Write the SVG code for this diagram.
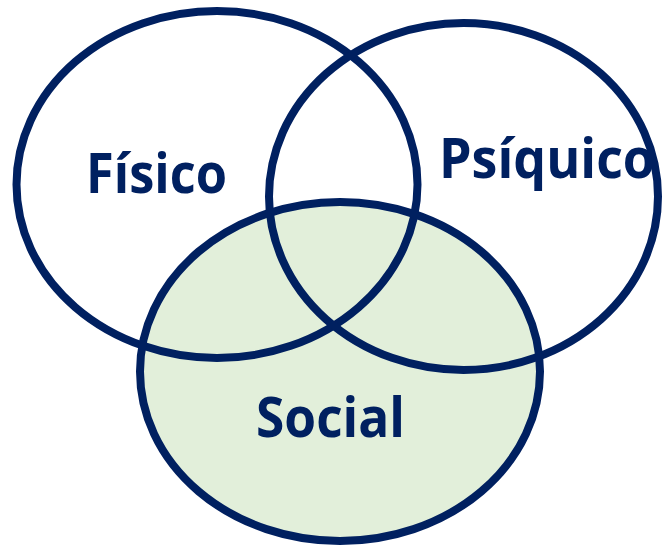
<svg xmlns="http://www.w3.org/2000/svg" width="664" height="549" viewBox="0 0 664 549">
  <style>
    .ring { fill: none; stroke: #002060; stroke-width: 8; }
    .lbl { font-family: "Open Sans", "Noto Sans", "Liberation Sans", sans-serif; font-weight: 700; font-size: 55px; fill: #002060; }
  </style>
  <rect width="664" height="549" fill="#ffffff"/>
  <g id="social-fill">
    <ellipse cx="340" cy="371.5" rx="200" ry="169.5" fill="#E2EFDA"/>
  </g>
  <g id="fisico">
    <ellipse class="ring" cx="217" cy="184.5" rx="200.5" ry="173.5"/>
    <text class="lbl" x="86" y="193" textLength="141" lengthAdjust="spacingAndGlyphs">Físico</text>
  </g>
  <g id="psiquico">
    <ellipse class="ring" cx="463.5" cy="196.5" rx="194.5" ry="173.5"/>
    <text class="lbl" x="439" y="178" textLength="216" lengthAdjust="spacingAndGlyphs">Psíquico</text>
  </g>
  <g id="social">
    <ellipse class="ring" cx="340" cy="371.5" rx="200" ry="169.5"/>
    <text class="lbl" x="256" y="437" textLength="149" lengthAdjust="spacingAndGlyphs">Social</text>
  </g>
</svg>
